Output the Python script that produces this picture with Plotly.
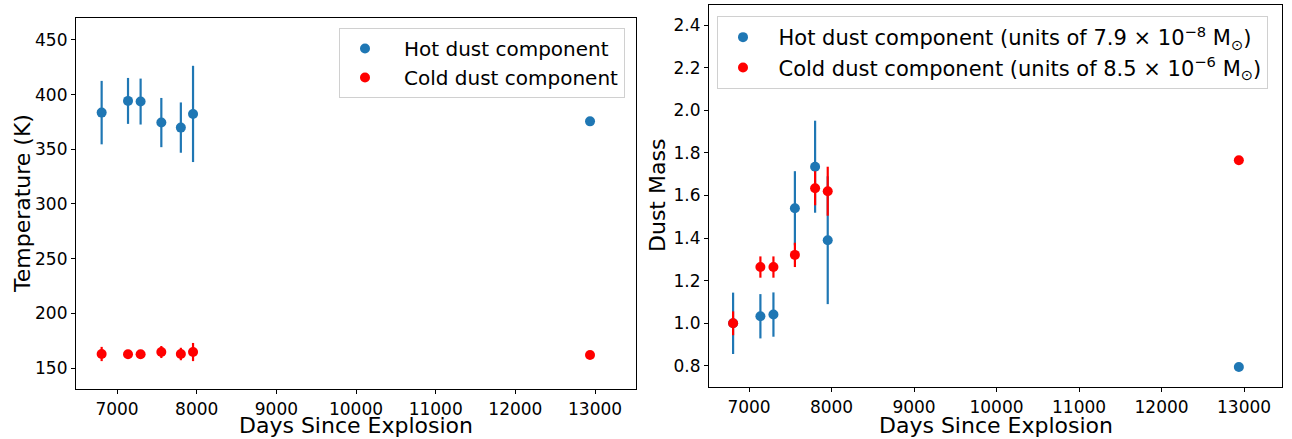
import plotly.graph_objects as go

# ---- data ----
days = [6807, 7138, 7296, 7556, 7801, 7954, 12937]

hot_temp = [383.5, 394.2, 393.6, 374.4, 369.8, 382.3, 375.5]
hot_temp_err = [29, 21, 21, 22.5, 23, 44, 0]
cold_temp = [162.8, 162.5, 162.5, 164.6, 162.8, 164.6, 161.9]
cold_temp_err = [6.5, 4, 4, 5.5, 5.7, 8.3, 0]

hot_mass = [1.0, 1.033, 1.041, 1.540, 1.735, 1.390, 0.795]
hot_mass_err = [0.144, 0.104, 0.104, 0.174, 0.216, 0.30, 0]
cold_mass = [1.0, 1.264, 1.264, 1.321, 1.634, 1.620, 1.765]
cold_mass_err = [0.056, 0.05, 0.05, 0.057, 0.08, 0.115, 0]

temp_ticks = [150, 200, 250, 300, 350, 400, 450]
mass_ticks = [0.8, 1.0, 1.2, 1.4, 1.6, 1.8, 2.0, 2.2, 2.4]
day_ticks = [7000, 8000, 9000, 10000, 11000, 12000, 13000]
day_labels = ["7000", "8000", "9000", "10000", "11000", "12000", "13000"]

BLUE = "#1f77b4"
RED = "#ff0000"
FONT = "DejaVu Sans"
W, H = 1292, 439
EN = "\u2002"
TH = "\u2009"
NB = "\u00a0"

fig = go.Figure()


def add(x, y, err, color, name, xa, ya, legend):
    fig.add_trace(go.Scatter(
        x=x, y=y, mode="markers", name=name,
        marker=dict(color=color, size=10, line=dict(width=0)),
        error_y=dict(type="data", array=err, visible=True, color=color,
                     thickness=2.2, width=0),
        xaxis=xa, yaxis=ya, legend=legend,
    ))


add(days, hot_temp, hot_temp_err, BLUE, EN + TH + "Hot dust component", "x", "y", "legend")
add(days, cold_temp, cold_temp_err, RED, EN + TH + "Cold dust component", "x", "y", "legend")
add(days, hot_mass, hot_mass_err, BLUE,
    EN + "Hot dust component (units of 7.9" + NB + "×" + NB + "10<sup>−8</sup>" + NB
    + "M<sub>⊙</sub>)", "x2", "y2", "legend2")
add(days, cold_mass, cold_mass_err, RED,
    EN + "Cold dust component (units of 8.5" + NB + "×" + NB + "10<sup>−6</sup>" + NB
    + "M<sub>⊙</sub>)", "x2", "y2", "legend2")

axis_common = dict(
    showline=True, linecolor="black", linewidth=1.2, mirror=True,
    ticks="outside", ticklen=4, tickwidth=1.2, tickcolor="black",
    showgrid=False, zeroline=False,
    tickfont=dict(family=FONT, size=17, color="black"),
    automargin=False,
)

fig.update_layout(
    width=W, height=H,
    margin=dict(l=0, r=0, t=0, b=0),
    paper_bgcolor="white", plot_bgcolor="white",
    font=dict(family=FONT, color="black"),
    xaxis=dict(domain=[76 / W, 636 / W], range=[6485, 13514], tickvals=day_ticks,
               ticktext=day_labels, anchor="y", **axis_common),
    yaxis=dict(domain=[(H - 389) / H, (H - 18) / H], range=[130.8, 470], tickvals=temp_ticks,
               anchor="x", **axis_common),
    xaxis2=dict(domain=[709 / W, 1282 / W], range=[6515, 13460], tickvals=day_ticks,
                ticktext=day_labels, anchor="y2", **axis_common),
    yaxis2=dict(domain=[(H - 387) / H, (H - 5) / H], range=[0.701, 2.494], tickvals=mass_ticks,
                tickformat=".1f", anchor="x2", **axis_common),
    legend=dict(x=339 / W, y=(H - 28) / H, xanchor="left", yanchor="top",
                bordercolor="#d0d0d0", borderwidth=1, bgcolor="rgba(255,255,255,0.8)",
                font=dict(family=FONT, size=20, color="black"), itemwidth=40),
    legend2=dict(x=717 / W, y=(H - 16) / H, xanchor="left", yanchor="top",
                 bordercolor="#d0d0d0", borderwidth=1, bgcolor="rgba(255,255,255,0.8)",
                 font=dict(family=FONT, size=21, color="black"), itemwidth=40),
)

title_font = dict(family=FONT, size=22, color="black")
titles = [
    dict(text="Days Since Explosion", x=356 / W, y=(H - 425.5) / H, textangle=0),
    dict(text="Days Since Explosion", x=995.5 / W, y=(H - 425.5) / H, textangle=0),
    dict(text="Temperature (K)", x=22.5 / W, y=(H - 203.5) / H, textangle=-90),
    dict(text="Dust Mass", x=657 / W, y=(H - 196) / H, textangle=-90),
]
for t in titles:
    fig.add_annotation(xref="paper", yref="paper", showarrow=False,
                       xanchor="center", yanchor="middle", font=title_font, **t)

fig.write_html("out.html")
